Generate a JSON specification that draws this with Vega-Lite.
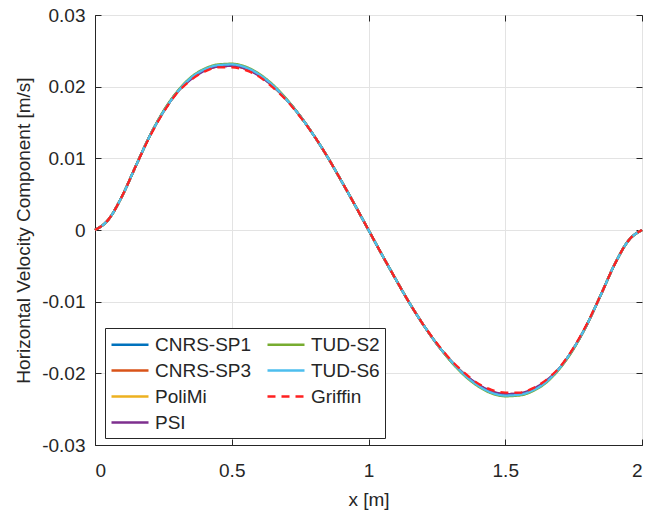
{
"$schema": "https://vega.github.io/schema/vega-lite/v6.json",
"width": 547, "height": 430,
"autosize": {"type": "none"},
"padding": {"left": 95, "top": 15, "right": 5, "bottom": 67},
"config": {
  "font": "Liberation Sans",
  "view": {"stroke": "#262626", "strokeWidth": 1},
  "axis": {"domainColor": "#262626", "tickColor": "#262626", "labelColor": "#262626", "titleColor": "#262626", "gridColor": "#e3e3e3", "labelFontSize": 19, "titleFontSize": 19, "titleFontWeight": "normal", "tickSize": -6, "labelFont": "Liberation Sans", "titleFont": "Liberation Sans"},
  "legend": {"orient": "none", "legendX": 10, "legendY": 313, "columns": 2, "direction": "vertical", "labelFontSize": 19, "labelFont": "Liberation Sans", "labelColor": "#262626", "symbolType": "M-1,0H2.7", "symbolSize": 400, "symbolStrokeWidth": 2.3, "strokeColor": "#262626", "fillColor": "white", "padding": 5, "rowPadding": 4, "columnPadding": 10, "labelOffset": 22, "cornerRadius": 0, "labelLimit": 300}
},
"data": {"values": [
{"s":"CNRS-SP1","x":0,"y":0},{"s":"CNRS-SP1","x":0.05,"y":0.0015},{"s":"CNRS-SP1","x":0.1,"y":0.0048},{"s":"CNRS-SP1","x":0.15,"y":0.009},{"s":"CNRS-SP1","x":0.2,"y":0.0131},{"s":"CNRS-SP1","x":0.25,"y":0.0165},{"s":"CNRS-SP1","x":0.3,"y":0.0192},{"s":"CNRS-SP1","x":0.35,"y":0.0211},{"s":"CNRS-SP1","x":0.4,"y":0.0223},{"s":"CNRS-SP1","x":0.45,"y":0.0229},{"s":"CNRS-SP1","x":0.5,"y":0.023},{"s":"CNRS-SP1","x":0.55,"y":0.0226},{"s":"CNRS-SP1","x":0.6,"y":0.0216},{"s":"CNRS-SP1","x":0.65,"y":0.0201},{"s":"CNRS-SP1","x":0.7,"y":0.0182},{"s":"CNRS-SP1","x":0.75,"y":0.0159},{"s":"CNRS-SP1","x":0.8,"y":0.0132},{"s":"CNRS-SP1","x":0.85,"y":0.0102},{"s":"CNRS-SP1","x":0.9,"y":0.0069},{"s":"CNRS-SP1","x":0.95,"y":0.0035},{"s":"CNRS-SP1","x":1,"y":0},{"s":"CNRS-SP1","x":1.05,"y":-0.0035},{"s":"CNRS-SP1","x":1.1,"y":-0.0069},{"s":"CNRS-SP1","x":1.15,"y":-0.0102},{"s":"CNRS-SP1","x":1.2,"y":-0.0132},{"s":"CNRS-SP1","x":1.25,"y":-0.0159},{"s":"CNRS-SP1","x":1.3,"y":-0.0182},{"s":"CNRS-SP1","x":1.35,"y":-0.0201},{"s":"CNRS-SP1","x":1.4,"y":-0.0216},{"s":"CNRS-SP1","x":1.45,"y":-0.0226},{"s":"CNRS-SP1","x":1.5,"y":-0.023},{"s":"CNRS-SP1","x":1.55,"y":-0.0229},{"s":"CNRS-SP1","x":1.6,"y":-0.0223},{"s":"CNRS-SP1","x":1.65,"y":-0.0211},{"s":"CNRS-SP1","x":1.7,"y":-0.0192},{"s":"CNRS-SP1","x":1.75,"y":-0.0165},{"s":"CNRS-SP1","x":1.8,"y":-0.0131},{"s":"CNRS-SP1","x":1.85,"y":-0.009},{"s":"CNRS-SP1","x":1.9,"y":-0.0048},{"s":"CNRS-SP1","x":1.95,"y":-0.0015},{"s":"CNRS-SP1","x":2,"y":0},
{"s":"CNRS-SP3","x":0,"y":0},{"s":"CNRS-SP3","x":0.05,"y":0.0015},{"s":"CNRS-SP3","x":0.1,"y":0.0048},{"s":"CNRS-SP3","x":0.15,"y":0.009},{"s":"CNRS-SP3","x":0.2,"y":0.0131},{"s":"CNRS-SP3","x":0.25,"y":0.0165},{"s":"CNRS-SP3","x":0.3,"y":0.0192},{"s":"CNRS-SP3","x":0.35,"y":0.0211},{"s":"CNRS-SP3","x":0.4,"y":0.0223},{"s":"CNRS-SP3","x":0.45,"y":0.0228},{"s":"CNRS-SP3","x":0.5,"y":0.0229},{"s":"CNRS-SP3","x":0.55,"y":0.0225},{"s":"CNRS-SP3","x":0.6,"y":0.0216},{"s":"CNRS-SP3","x":0.65,"y":0.0201},{"s":"CNRS-SP3","x":0.7,"y":0.0182},{"s":"CNRS-SP3","x":0.75,"y":0.0159},{"s":"CNRS-SP3","x":0.8,"y":0.0132},{"s":"CNRS-SP3","x":0.85,"y":0.0102},{"s":"CNRS-SP3","x":0.9,"y":0.0069},{"s":"CNRS-SP3","x":0.95,"y":0.0035},{"s":"CNRS-SP3","x":1,"y":0},{"s":"CNRS-SP3","x":1.05,"y":-0.0035},{"s":"CNRS-SP3","x":1.1,"y":-0.0069},{"s":"CNRS-SP3","x":1.15,"y":-0.0102},{"s":"CNRS-SP3","x":1.2,"y":-0.0132},{"s":"CNRS-SP3","x":1.25,"y":-0.0159},{"s":"CNRS-SP3","x":1.3,"y":-0.0182},{"s":"CNRS-SP3","x":1.35,"y":-0.0201},{"s":"CNRS-SP3","x":1.4,"y":-0.0216},{"s":"CNRS-SP3","x":1.45,"y":-0.0225},{"s":"CNRS-SP3","x":1.5,"y":-0.0229},{"s":"CNRS-SP3","x":1.55,"y":-0.0228},{"s":"CNRS-SP3","x":1.6,"y":-0.0223},{"s":"CNRS-SP3","x":1.65,"y":-0.0211},{"s":"CNRS-SP3","x":1.7,"y":-0.0192},{"s":"CNRS-SP3","x":1.75,"y":-0.0165},{"s":"CNRS-SP3","x":1.8,"y":-0.0131},{"s":"CNRS-SP3","x":1.85,"y":-0.009},{"s":"CNRS-SP3","x":1.9,"y":-0.0048},{"s":"CNRS-SP3","x":1.95,"y":-0.0015},{"s":"CNRS-SP3","x":2,"y":0},
{"s":"PoliMi","x":0,"y":0},{"s":"PoliMi","x":0.05,"y":0.0015},{"s":"PoliMi","x":0.1,"y":0.0048},{"s":"PoliMi","x":0.15,"y":0.009},{"s":"PoliMi","x":0.2,"y":0.0131},{"s":"PoliMi","x":0.25,"y":0.0165},{"s":"PoliMi","x":0.3,"y":0.0192},{"s":"PoliMi","x":0.35,"y":0.0211},{"s":"PoliMi","x":0.4,"y":0.0223},{"s":"PoliMi","x":0.45,"y":0.0229},{"s":"PoliMi","x":0.5,"y":0.023},{"s":"PoliMi","x":0.55,"y":0.0226},{"s":"PoliMi","x":0.6,"y":0.0216},{"s":"PoliMi","x":0.65,"y":0.0201},{"s":"PoliMi","x":0.7,"y":0.0182},{"s":"PoliMi","x":0.75,"y":0.0159},{"s":"PoliMi","x":0.8,"y":0.0132},{"s":"PoliMi","x":0.85,"y":0.0102},{"s":"PoliMi","x":0.9,"y":0.0069},{"s":"PoliMi","x":0.95,"y":0.0035},{"s":"PoliMi","x":1,"y":0},{"s":"PoliMi","x":1.05,"y":-0.0035},{"s":"PoliMi","x":1.1,"y":-0.0069},{"s":"PoliMi","x":1.15,"y":-0.0102},{"s":"PoliMi","x":1.2,"y":-0.0132},{"s":"PoliMi","x":1.25,"y":-0.0159},{"s":"PoliMi","x":1.3,"y":-0.0182},{"s":"PoliMi","x":1.35,"y":-0.0201},{"s":"PoliMi","x":1.4,"y":-0.0216},{"s":"PoliMi","x":1.45,"y":-0.0226},{"s":"PoliMi","x":1.5,"y":-0.023},{"s":"PoliMi","x":1.55,"y":-0.0229},{"s":"PoliMi","x":1.6,"y":-0.0223},{"s":"PoliMi","x":1.65,"y":-0.0211},{"s":"PoliMi","x":1.7,"y":-0.0192},{"s":"PoliMi","x":1.75,"y":-0.0165},{"s":"PoliMi","x":1.8,"y":-0.0131},{"s":"PoliMi","x":1.85,"y":-0.009},{"s":"PoliMi","x":1.9,"y":-0.0048},{"s":"PoliMi","x":1.95,"y":-0.0015},{"s":"PoliMi","x":2,"y":0},
{"s":"PSI","x":0,"y":0},{"s":"PSI","x":0.05,"y":0.0015},{"s":"PSI","x":0.1,"y":0.0048},{"s":"PSI","x":0.15,"y":0.009},{"s":"PSI","x":0.2,"y":0.0131},{"s":"PSI","x":0.25,"y":0.0165},{"s":"PSI","x":0.3,"y":0.0192},{"s":"PSI","x":0.35,"y":0.021},{"s":"PSI","x":0.4,"y":0.0222},{"s":"PSI","x":0.45,"y":0.0228},{"s":"PSI","x":0.5,"y":0.0229},{"s":"PSI","x":0.55,"y":0.0225},{"s":"PSI","x":0.6,"y":0.0215},{"s":"PSI","x":0.65,"y":0.0201},{"s":"PSI","x":0.7,"y":0.0182},{"s":"PSI","x":0.75,"y":0.0159},{"s":"PSI","x":0.8,"y":0.0132},{"s":"PSI","x":0.85,"y":0.0102},{"s":"PSI","x":0.9,"y":0.0069},{"s":"PSI","x":0.95,"y":0.0035},{"s":"PSI","x":1,"y":0},{"s":"PSI","x":1.05,"y":-0.0035},{"s":"PSI","x":1.1,"y":-0.0069},{"s":"PSI","x":1.15,"y":-0.0102},{"s":"PSI","x":1.2,"y":-0.0132},{"s":"PSI","x":1.25,"y":-0.0159},{"s":"PSI","x":1.3,"y":-0.0182},{"s":"PSI","x":1.35,"y":-0.0201},{"s":"PSI","x":1.4,"y":-0.0215},{"s":"PSI","x":1.45,"y":-0.0225},{"s":"PSI","x":1.5,"y":-0.0229},{"s":"PSI","x":1.55,"y":-0.0228},{"s":"PSI","x":1.6,"y":-0.0222},{"s":"PSI","x":1.65,"y":-0.021},{"s":"PSI","x":1.7,"y":-0.0192},{"s":"PSI","x":1.75,"y":-0.0165},{"s":"PSI","x":1.8,"y":-0.0131},{"s":"PSI","x":1.85,"y":-0.009},{"s":"PSI","x":1.9,"y":-0.0048},{"s":"PSI","x":1.95,"y":-0.0015},{"s":"PSI","x":2,"y":0},
{"s":"TUD-S2","x":0,"y":0},{"s":"TUD-S2","x":0.05,"y":0.0015},{"s":"TUD-S2","x":0.1,"y":0.0048},{"s":"TUD-S2","x":0.15,"y":0.009},{"s":"TUD-S2","x":0.2,"y":0.0131},{"s":"TUD-S2","x":0.25,"y":0.0166},{"s":"TUD-S2","x":0.3,"y":0.0193},{"s":"TUD-S2","x":0.35,"y":0.0213},{"s":"TUD-S2","x":0.4,"y":0.0225},{"s":"TUD-S2","x":0.45,"y":0.0231},{"s":"TUD-S2","x":0.5,"y":0.0232},{"s":"TUD-S2","x":0.55,"y":0.0228},{"s":"TUD-S2","x":0.6,"y":0.0218},{"s":"TUD-S2","x":0.65,"y":0.0203},{"s":"TUD-S2","x":0.7,"y":0.0183},{"s":"TUD-S2","x":0.75,"y":0.0159},{"s":"TUD-S2","x":0.8,"y":0.0132},{"s":"TUD-S2","x":0.85,"y":0.0102},{"s":"TUD-S2","x":0.9,"y":0.0069},{"s":"TUD-S2","x":0.95,"y":0.0035},{"s":"TUD-S2","x":1,"y":0},{"s":"TUD-S2","x":1.05,"y":-0.0035},{"s":"TUD-S2","x":1.1,"y":-0.0069},{"s":"TUD-S2","x":1.15,"y":-0.0102},{"s":"TUD-S2","x":1.2,"y":-0.0132},{"s":"TUD-S2","x":1.25,"y":-0.0159},{"s":"TUD-S2","x":1.3,"y":-0.0183},{"s":"TUD-S2","x":1.35,"y":-0.0203},{"s":"TUD-S2","x":1.4,"y":-0.0218},{"s":"TUD-S2","x":1.45,"y":-0.0228},{"s":"TUD-S2","x":1.5,"y":-0.0232},{"s":"TUD-S2","x":1.55,"y":-0.0231},{"s":"TUD-S2","x":1.6,"y":-0.0225},{"s":"TUD-S2","x":1.65,"y":-0.0213},{"s":"TUD-S2","x":1.7,"y":-0.0193},{"s":"TUD-S2","x":1.75,"y":-0.0166},{"s":"TUD-S2","x":1.8,"y":-0.0131},{"s":"TUD-S2","x":1.85,"y":-0.009},{"s":"TUD-S2","x":1.9,"y":-0.0048},{"s":"TUD-S2","x":1.95,"y":-0.0015},{"s":"TUD-S2","x":2,"y":0},
{"s":"TUD-S6","x":0,"y":0},{"s":"TUD-S6","x":0.05,"y":0.0015},{"s":"TUD-S6","x":0.1,"y":0.0048},{"s":"TUD-S6","x":0.15,"y":0.009},{"s":"TUD-S6","x":0.2,"y":0.0131},{"s":"TUD-S6","x":0.25,"y":0.0165},{"s":"TUD-S6","x":0.3,"y":0.0192},{"s":"TUD-S6","x":0.35,"y":0.0212},{"s":"TUD-S6","x":0.4,"y":0.0224},{"s":"TUD-S6","x":0.45,"y":0.023},{"s":"TUD-S6","x":0.5,"y":0.0231},{"s":"TUD-S6","x":0.55,"y":0.0227},{"s":"TUD-S6","x":0.6,"y":0.0217},{"s":"TUD-S6","x":0.65,"y":0.0202},{"s":"TUD-S6","x":0.7,"y":0.0182},{"s":"TUD-S6","x":0.75,"y":0.0159},{"s":"TUD-S6","x":0.8,"y":0.0132},{"s":"TUD-S6","x":0.85,"y":0.0102},{"s":"TUD-S6","x":0.9,"y":0.0069},{"s":"TUD-S6","x":0.95,"y":0.0035},{"s":"TUD-S6","x":1,"y":0},{"s":"TUD-S6","x":1.05,"y":-0.0035},{"s":"TUD-S6","x":1.1,"y":-0.0069},{"s":"TUD-S6","x":1.15,"y":-0.0102},{"s":"TUD-S6","x":1.2,"y":-0.0132},{"s":"TUD-S6","x":1.25,"y":-0.0159},{"s":"TUD-S6","x":1.3,"y":-0.0182},{"s":"TUD-S6","x":1.35,"y":-0.0202},{"s":"TUD-S6","x":1.4,"y":-0.0217},{"s":"TUD-S6","x":1.45,"y":-0.0227},{"s":"TUD-S6","x":1.5,"y":-0.0231},{"s":"TUD-S6","x":1.55,"y":-0.023},{"s":"TUD-S6","x":1.6,"y":-0.0224},{"s":"TUD-S6","x":1.65,"y":-0.0212},{"s":"TUD-S6","x":1.7,"y":-0.0192},{"s":"TUD-S6","x":1.75,"y":-0.0165},{"s":"TUD-S6","x":1.8,"y":-0.0131},{"s":"TUD-S6","x":1.85,"y":-0.009},{"s":"TUD-S6","x":1.9,"y":-0.0048},{"s":"TUD-S6","x":1.95,"y":-0.0015},{"s":"TUD-S6","x":2,"y":0},
{"s":"Griffin","x":0,"y":0},{"s":"Griffin","x":0.05,"y":0.0015},{"s":"Griffin","x":0.1,"y":0.0048},{"s":"Griffin","x":0.15,"y":0.009},{"s":"Griffin","x":0.2,"y":0.013},{"s":"Griffin","x":0.25,"y":0.0164},{"s":"Griffin","x":0.3,"y":0.0191},{"s":"Griffin","x":0.35,"y":0.0209},{"s":"Griffin","x":0.4,"y":0.0221},{"s":"Griffin","x":0.45,"y":0.0227},{"s":"Griffin","x":0.5,"y":0.0227},{"s":"Griffin","x":0.55,"y":0.0223},{"s":"Griffin","x":0.6,"y":0.0214},{"s":"Griffin","x":0.65,"y":0.0199},{"s":"Griffin","x":0.7,"y":0.0181},{"s":"Griffin","x":0.75,"y":0.0158},{"s":"Griffin","x":0.8,"y":0.0132},{"s":"Griffin","x":0.85,"y":0.0102},{"s":"Griffin","x":0.9,"y":0.0069},{"s":"Griffin","x":0.95,"y":0.0035},{"s":"Griffin","x":1,"y":0},{"s":"Griffin","x":1.05,"y":-0.0035},{"s":"Griffin","x":1.1,"y":-0.0069},{"s":"Griffin","x":1.15,"y":-0.0102},{"s":"Griffin","x":1.2,"y":-0.0132},{"s":"Griffin","x":1.25,"y":-0.0158},{"s":"Griffin","x":1.3,"y":-0.0181},{"s":"Griffin","x":1.35,"y":-0.0199},{"s":"Griffin","x":1.4,"y":-0.0214},{"s":"Griffin","x":1.45,"y":-0.0223},{"s":"Griffin","x":1.5,"y":-0.0227},{"s":"Griffin","x":1.55,"y":-0.0227},{"s":"Griffin","x":1.6,"y":-0.0221},{"s":"Griffin","x":1.65,"y":-0.0209},{"s":"Griffin","x":1.7,"y":-0.0191},{"s":"Griffin","x":1.75,"y":-0.0164},{"s":"Griffin","x":1.8,"y":-0.013},{"s":"Griffin","x":1.85,"y":-0.009},{"s":"Griffin","x":1.9,"y":-0.0048},{"s":"Griffin","x":1.95,"y":-0.0015},{"s":"Griffin","x":2,"y":0}
]},
"layer": [
  {
    "mark": {"type": "line", "strokeWidth": 2.3, "interpolate": "monotone"},
    "encoding": {
      "x": {"field": "x", "type": "quantitative", "scale": {"domain": [0, 2], "nice": false},
            "axis": {"orient": "bottom", "values": [0, 0.5, 1, 1.5, 2], "format": "~g", "title": "x [m]", "labelPadding": 22, "titlePadding": 10, "grid": true}},
      "y": {"field": "y", "type": "quantitative", "scale": {"domain": [-0.03, 0.03], "nice": false},
            "axis": {"orient": "left", "values": [-0.03, -0.02, -0.01, 0, 0.01, 0.02, 0.03], "labelExpr": "datum.value == 0 ? '0' : (datum.value < 0 ? '-' + format(-datum.value, '.2f') : format(datum.value, '.2f'))", "title": "Horizontal Velocity Component [m/s]", "labelPadding": 16, "titlePadding": 8, "grid": true}},
      "color": {"field": "s", "type": "nominal",
                "scale": {"domain": ["CNRS-SP1", "CNRS-SP3", "PoliMi", "PSI", "TUD-S2", "TUD-S6", "Griffin"],
                          "range": ["#0072BD", "#D95319", "#EDB120", "#7E2F8E", "#77AC30", "#4DBEEE", "#FF2020"]},
                "legend": {"title": null}},
      "strokeDash": {"field": "s", "type": "nominal",
                "scale": {"domain": ["CNRS-SP1", "CNRS-SP3", "PoliMi", "PSI", "TUD-S2", "TUD-S6", "Griffin"],
                          "range": [[1, 0], [1, 0], [1, 0], [1, 0], [1, 0], [1, 0], [8, 6]]},
                "legend": {"title": null}}
    }
  },
  {
    "mark": {"type": "point", "opacity": 0},
    "encoding": {
      "x": {"field": "x", "type": "quantitative", "axis": {"orient": "top", "values": [0, 0.5, 1, 1.5, 2], "labels": false, "title": null, "grid": false, "domain": false}},
      "y": {"field": "y", "type": "quantitative", "axis": {"orient": "right", "values": [-0.03, -0.02, -0.01, 0, 0.01, 0.02, 0.03], "labels": false, "title": null, "grid": false, "domain": false}}
    }
  }
],
"resolve": {"axis": {"x": "independent", "y": "independent"}}
}
